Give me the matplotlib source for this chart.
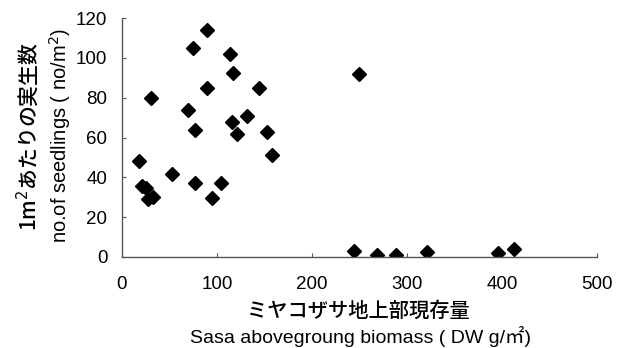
import matplotlib
matplotlib.use("Agg")
import matplotlib.pyplot as plt

plt.rcParams['font.family'] = ['Liberation Sans', 'Noto Sans CJK JP', 'DejaVu Sans']

biomass = [89, 75, 114, 116.5, 89, 144.5, 30, 69, 132, 116, 77, 121, 153, 158,
           18, 53, 77, 104, 21, 25, 27, 33, 95,
           249.5, 244.6, 268, 288, 321, 395.5, 412]
seedlings = [114, 105, 102, 92.5, 85, 85, 80, 74, 71, 68, 64, 62, 63, 51,
             48, 41.5, 37, 37, 35.7, 34.8, 29, 30, 29.5,
             92, 3.2, 1, 1, 2.3, 1.8, 4.2]
xticks = [0, 100, 200, 300, 400, 500]
yticks = [0, 20, 40, 60, 80, 100, 120]

jp = ['Noto Sans CJK JP', 'DejaVu Sans']
en = ['Liberation Sans', 'Noto Sans CJK JP']

fig = plt.figure(figsize=(6.24, 3.48), dpi=100)
ax = fig.add_axes([0.1955, 0.2615, 0.7615, 0.6865])
ax.plot(biomass, seedlings, linestyle='none', marker='D', color='black', markersize=7.5)
ax.set_xlim(0, 500)
ax.set_ylim(0, 120)
ax.set_xticks(xticks)
ax.set_yticks(yticks)
ax.spines['top'].set_visible(False)
ax.spines['right'].set_visible(False)
for s in ['left', 'bottom']:
    ax.spines[s].set_color('#555555')
    ax.spines[s].set_linewidth(1.0)
ax.tick_params(direction='in', length=3, width=0.8, color='#555555', labelsize=13.5)
ax.tick_params(axis='x', pad=13.5)
ax.tick_params(axis='y', pad=10.5)
for lab in ax.get_xticklabels() + ax.get_yticklabels():
    lab.set_family(en)

fig.text(0.045, 0.607, '1m$^2$あたりの実生数', rotation=90, ha='center', va='center',
         fontsize=15, family=jp, fontweight='medium')
fig.text(0.096, 0.612, 'no.of seedlings ( no/m$^2$)', rotation=90, ha='center', va='center',
         fontsize=14.5, family=en)
fig.text(0.575, 0.106, 'ミヤコザサ地上部現存量', ha='center', va='center',
         fontsize=14.6, family=jp, fontweight='medium')
fig.text(0.578, 0.034, 'Sasa abovegroung biomass ( DW g/㎡)', ha='center', va='center',
         fontsize=14, family=en)

fig.savefig('out.png', dpi=100)
